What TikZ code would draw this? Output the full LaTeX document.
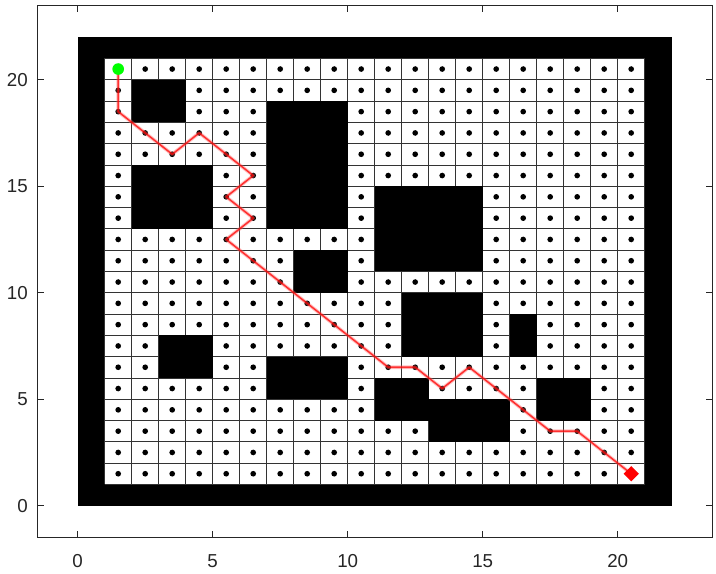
\documentclass[tikz,border=0pt]{standalone}
\usepackage{fontspec}
\setmainfont{Liberation Sans}
\usetikzlibrary{shapes.geometric}
\begin{document}
\begin{tikzpicture}[
  x=0.81cm, y=0.639cm,
  axisline/.style={draw=black!85, line width=0.6pt},
  ticklab/.style={font=\fontsize{16}{18}\selectfont, text=black!85, inner sep=0pt},
  gridline/.style={draw=black!80, line width=0.55pt},
  block/.style={fill=black},
  route/.style={draw=red, line width=1.3pt, line join=round, draw opacity=0.75,
    preaction={draw=red!60, line width=3pt, line join=round, draw opacity=0.4}},
  startpt/.style={circle, fill=green, inner sep=0pt, minimum size=0.35cm},
  goalpt/.style={diamond, fill=red, inner sep=0pt, minimum width=0.46cm, minimum height=0.46cm}
]
\useasboundingbox (-2.878,-3.160) rectangle (23.641,23.742);
% axes
\draw[axisline] (-1.5,-1.5) rectangle (23.5,23.5);
\foreach \t in {0,5,10,15,20} {
  \draw[axisline] (\t,-1.5) -- ++(0,0.2cm);
  \draw[axisline] (\t,23.5) -- ++(0,-0.2cm);
  \draw[axisline] (-1.5,\t) -- ++(0.2cm,0);
  \draw[axisline] (23.5,\t) -- ++(-0.2cm,0);
  \node[ticklab] (xl\t) at (\t,-2.587) {\t};
  \node[ticklab, anchor=east] (yl\t) at (-1.84,\t) {\t};
}
% wall and free cells
\fill[black] (0,0) rectangle (22,22);
\fill[white] (1,1) rectangle (21,21);
\draw[gridline, step=1] (1,1) grid (21,21);
\foreach \i in {1,...,20} {
  \foreach \j in {1,...,20} {
    \fill (\i+0.5,\j+0.5) circle[radius=0.085cm];
  }
}
% obstacles
\foreach \a/\b/\c/\d in {2/18/4/20, 2/13/5/16, 7/13/10/19, 8/10/10/12,
    11/11/15/15, 12/7/15/10, 16/7/17/9, 3/6/5/8, 7/5/10/7,
    11/4/13/6, 13/3/16/5, 17/4/19/6} {
  \fill[block] (\a,\b) rectangle (\c,\d);
}
% path
\coordinate (s) at (1.5,20.5);
\coordinate (g) at (20.5,1.5);
\draw[route] (s) -- (1.5,18.5) -- (3.5,16.5) -- (4.5,17.5) -- (6.5,15.5)
  -- (5.5,14.5) -- (6.5,13.5) -- (5.5,12.5) -- (11.5,6.5) -- (12.5,6.5)
  -- (13.5,5.5) -- (14.5,6.5) -- (17.5,3.5) -- (18.5,3.5) -- (g);
\node[startpt] (start) at (s) {};
\node[goalpt] (goal) at (g) {};
\end{tikzpicture}
\end{document}
